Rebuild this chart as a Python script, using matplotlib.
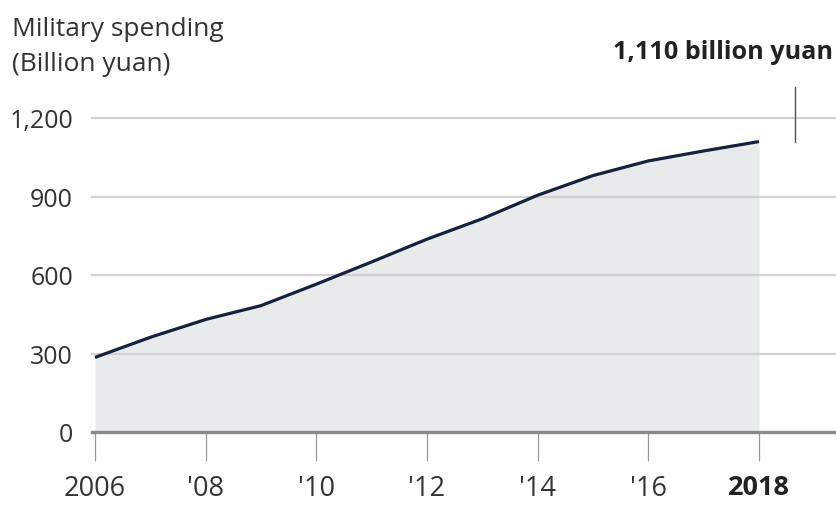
import numpy as np
import matplotlib
matplotlib.use('Agg')
import matplotlib.pyplot as plt

plt.rcParams['font.family'] = ['Open Sans', 'DejaVu Sans']

# ---- Data ----
years = [2006, 2007, 2008, 2009, 2010, 2011, 2012, 2013, 2014, 2015, 2016, 2017, 2018]
spending = [285, 362, 430, 483, 565, 650, 737, 815, 905, 980, 1036, 1074, 1110]

y_ticks = [0, 300, 600, 900, 1200]
y_labels = ['0', '300', '600', '900', '1,200']
x_ticks = [2006, 2008, 2010, 2012, 2014, 2016, 2018]
x_labels = ['2006', "'08", "'10", "'12", "'14", "'16", '2018']

line_col = '#14223c'
fill_col = '#e8ebeb'
grid_col = '#d2d2d2'
text_col = '#333333'

fig = plt.figure(figsize=(8.36, 5.06), dpi=100)
W, H = 836, 506
PX = 72.0 / 100            # points per pixel
# axes: left edge px 92 -> right edge 836, y: 433 (0) -> 119 (1200)
ax = fig.add_axes([92 / W, (H - 433) / H, 1 - 92 / W, (433 - 119) / H])

ppy = (759 - 95) / 12.0          # pixels per year
ax.set_xlim(2006 - 3 / ppy, 2018 + 77 / ppy)
ax.set_ylim(0, 1200)

ax.fill_between(years, spending, 0, color=fill_col, lw=0, zorder=1)
for yv in y_ticks[1:]:
    ax.axhline(yv, color=grid_col, lw=1.6, zorder=2, clip_on=False)
ax.axhline(0, color='#8a8a8a', lw=2.4, zorder=3, clip_on=False)
ax.plot(years, spending, color=line_col, lw=2.3, zorder=4,
        solid_capstyle='butt', solid_joinstyle='round')

# callout line to the 2018 value
xa = 2018 + 36 / ppy
ax.plot([xa, xa], [1110, 1320], color='#555555', lw=1.0, clip_on=False, zorder=5)
fig.text(833 / W, (H - 59) / H, '1,110 billion yuan', ha='right', va='baseline',
         fontsize=18.2, fontweight='bold', color='#222222')

# y axis title
fig.text(12 / W, (H - 36) / H, 'Military spending', ha='left', va='baseline',
         fontsize=19, color=text_col)
fig.text(12 / W, (H - 71) / H, '(Billion yuan)', ha='left', va='baseline',
         fontsize=19, color=text_col)

for s in ax.spines.values():
    s.set_visible(False)

ax.set_yticks(y_ticks)
ax.set_yticklabels(y_labels)
ax.tick_params(axis='y', length=0, pad=19 * PX, labelsize=18, labelcolor=text_col)

ax.set_xticks(x_ticks)
ax.set_xticklabels(x_labels)
ax.tick_params(axis='x', length=29 * PX, width=0.9, color='#9a9a9a', pad=13 * PX,
               labelsize=19.5, labelcolor=text_col)
ax.get_xticklabels()[-1].set_fontweight('bold')
ax.get_xticklabels()[-1].set_color('#222222')

fig.savefig('out.png', dpi=100)
